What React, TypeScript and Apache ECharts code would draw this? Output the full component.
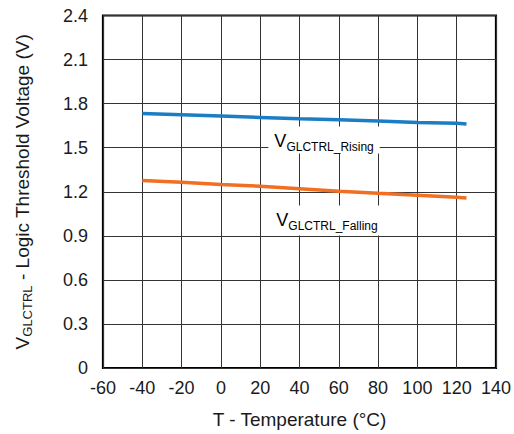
import React, { useEffect, useRef } from "react";
import * as echarts from "echarts";

const temps = [-40, -20, 0, 20, 40, 60, 80, 100, 120, 125];
const risingV = [1.733, 1.724, 1.715, 1.706, 1.697, 1.69, 1.682, 1.672, 1.666, 1.661];
const fallingV = [1.277, 1.264, 1.25, 1.237, 1.221, 1.203, 1.189, 1.176, 1.162, 1.158];
const xTicks = { min: -60, max: 140, interval: 20 };
const yTicks = { min: 0, max: 2.4, interval: 0.3 };

const FONT = "'Liberation Sans', Arial, sans-serif";

export default function App() {
  const ref = useRef<HTMLDivElement>(null);
  useEffect(() => {
    document.body.style.margin = "0";
    const chart = echarts.init(ref.current!, null, { renderer: "svg" });
    const rich = {
      v: { fontSize: 19, fontFamily: FONT, color: "#1a1a1a", lineHeight: 26, verticalAlign: "middle" },
      s: { fontSize: 13, fontFamily: FONT, color: "#1a1a1a", lineHeight: 26, verticalAlign: "bottom", padding: [0, 0, 1, 0] },
    };
    const option: any = {
      animation: false,
      grid: {
        left: 103,
        right: 17,
        top: 15.5,
        bottom: 62.5,
        show: true,
        borderColor: "#000",
        borderWidth: 2.2,
        backgroundColor: "transparent",
      },
      xAxis: {
        type: "value",
        min: xTicks.min,
        max: xTicks.max,
        interval: xTicks.interval,
        axisLine: { show: false },
        axisTick: { show: false },
        splitLine: { show: true, lineStyle: { color: "#333", width: 1 } },
        axisLabel: { color: "#1a1a1a", fontSize: 18, fontFamily: FONT, margin: 11 },
        name: "T - Temperature (°C)",
        nameLocation: "middle",
        nameGap: 42,
        nameTextStyle: { color: "#1a1a1a", fontSize: 19, fontFamily: FONT },
      },
      yAxis: {
        type: "value",
        min: yTicks.min,
        max: yTicks.max,
        interval: yTicks.interval,
        axisLine: { show: false },
        axisTick: { show: false },
        splitLine: { show: true, lineStyle: { color: "#333", width: 1 } },
        axisLabel: {
          color: "#1a1a1a",
          fontSize: 18,
          fontFamily: FONT,
          margin: 15,
          formatter: (v: number) => (v === 0 ? "0" : v.toFixed(1)),
        },
        name: "{v|V}{s|GLCTRL}{v| - Logic Threshold Voltage (V)}",
        nameLocation: "middle",
        nameGap: 68,
        nameRotate: 90,
        nameTextStyle: { rich },
      },
      series: [
        {
          name: "Rising",
          type: "line",
          data: temps.map((t, i) => [t, risingV[i]]),
          showSymbol: false,
          lineStyle: { color: "#1b7ec4", width: 3.5 },
          z: 3,
        },
        {
          name: "Falling",
          type: "line",
          data: temps.map((t, i) => [t, fallingV[i]]),
          showSymbol: false,
          lineStyle: { color: "#f26e22", width: 3.5 },
          z: 3,
        },
      ],
    };
    chart.setOption(option);
    const p1 = chart.convertToPixel({ gridIndex: 0 }, [52.5, 1.552]) as number[];
    const p2 = chart.convertToPixel({ gridIndex: 0 }, [54, 1.005]) as number[];
    const labelRich = {
      v: { fontSize: 18, fontFamily: FONT, color: "#1a1a1a", lineHeight: 24, verticalAlign: "middle" },
      s: { fontSize: 12, fontFamily: FONT, color: "#1a1a1a", lineHeight: 24, verticalAlign: "bottom" },
    };
    chart.setOption({
      graphic: [
        {
          type: "text",
          x: p1[0],
          y: p1[1],
          z: 1,
          style: {
            text: "{v|V}{s|GLCTRL_Rising}",
            rich: labelRich,
            align: "center",
            verticalAlign: "middle",
            backgroundColor: "#fff",
            padding: [2, 6, 1, 6],
          },
        },
        {
          type: "text",
          x: p2[0],
          y: p2[1],
          z: 1,
          style: {
            text: "{v|V}{s|GLCTRL_Falling}",
            rich: labelRich,
            align: "center",
            verticalAlign: "middle",
            backgroundColor: "#fff",
            padding: [3, 6, 3, 6],
          },
        },
      ],
    });
    return () => chart.dispose();
  }, []);
  return <div ref={ref} style={{ width: 514, height: 434 }} />;
}
